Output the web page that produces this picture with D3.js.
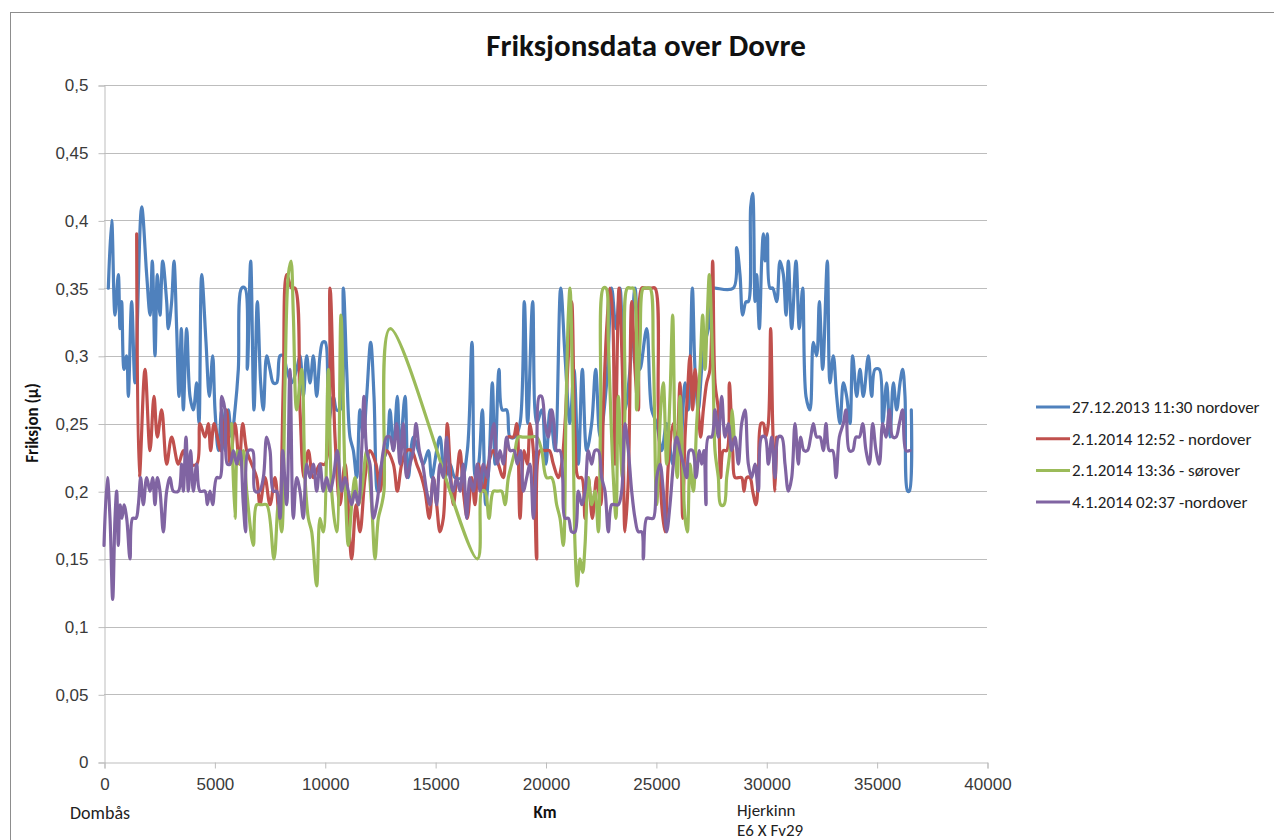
<!DOCTYPE html>
<html lang="no">
<head>
<meta charset="UTF-8">
<title>Friksjonsdata over Dovre</title>
<script src="https://d3js.org/d3.v7.min.js"></script>
<style>
  body { margin: 0; background: #fff; }
  svg { display: block; font-family: Carlito, Calibri, "Open Sans", sans-serif; }
  .tick-label { font-size: 17px; fill: #3a3a3a; }
  .legend-text { font-size: 17px; fill: #222; }
</style>
</head>
<body>
<svg class="chart"></svg>
<script>
// series names
const seriesNames = ["27.12.2013 11:30 nordover", "2.1.2014 12:52 - nordover", "2.1.2014 13:36 - sørover", "4.1.2014 02:37 -nordover"];
const seriesColors = ["#4f81bd", "#c0504d", "#9bbb59", "#8064a2"];

const xTicks = [0, 5000, 10000, 15000, 20000, 25000, 30000, 35000, 40000];
const yTicks = [0, 0.05, 0.1, 0.15, 0.2, 0.25, 0.3, 0.35, 0.4, 0.45, 0.5];

// 27.12.2013
const blueKm = [196,347,498,649,725,800,906,1027,1102,1253,1404,1706,1933,2084,2189,2310,2416,2537,2658,2839,2914,3065,3171,3292,3398,3503,3594,3745,3896,4047,4198,4304,4424,4621,4772,4923,5028,5179,5330,5481,5632,5783,5934,6085,6236,6387,6493,6644,6795,6946,7097,7218,7368,7519,7670,7821,7972,8123,8274,8501,8728,8879,9030,9181,9332,9483,9634,9785,9906,10026,10162,10389,10540,10691,10842,10993,11144,11295,11446,11597,11748,11899,12080,12231,12382,12578,12805,12956,
  13107,13288,13409,13636,13787,14013,14240,14466,14693,14844,15070,15221,15448,15674,15901,16203,16459,16671,16822,16973,17139,17290,17441,17592,17713,17894,18045,18241,18392,18619,18845,19041,19192,19419,19600,19827,20023,20204,20431,20687,20883,21110,21291,21488,21669,21865,22092,22273,22469,22771,22998,23194,23375,23602,23828,24055,24281,24583,24810,25036,25263,25489,25761,25942,
  26093,26320,26471,26652,26773,26924,27075,27226,27377,27528,27679,28509,28660,28811,28932,29083,29189,29294,29385,29491,29566,29687,29793,29868,29944,30049,30170,30291,30472,30623,30774,30895,31001,31152,31348,31499,31650,31801,31982,32133,32284,32405,32556,32767,32888,33039,33190,33341,33492,33643,33794,33915,34096,34247,34398,34625,34776,34927,35123,35274,35455,35606,35757,35908,36059,36180,36286,36406,36482,36572];
const blueVal = [0.35,0.40,0.33,0.36,0.32,0.34,0.29,0.30,0.27,0.34,0.28,0.41,0.36,0.33,0.37,0.30,0.36,0.33,0.37,0.34,0.32,0.34,0.37,0.32,0.27,0.32,0.26,0.32,0.27,0.26,0.28,0.25,0.36,0.31,0.27,0.30,0.26,0.23,0.26,0.23,0.26,0.24,0.26,0.29,0.35,0.35,0.29,0.37,0.26,0.34,0.28,0.26,0.30,0.29,0.28,0.28,0.30,0.30,0.29,0.28,0.29,0.30,0.27,0.30,0.28,0.30,0.27,0.30,0.31,0.31,0.25,0.27,0.26,0.26,0.35,0.29,0.24,0.23,0.21,0.26,0.24,0.27,0.31,0.27,0.20,0.22,0.23,0.26,
  0.23,0.27,0.23,0.27,0.21,0.24,0.23,0.22,0.23,0.21,0.23,0.24,0.21,0.22,0.21,0.21,0.23,0.31,0.21,0.22,0.26,0.19,0.22,0.28,0.22,0.29,0.26,0.26,0.24,0.24,0.25,0.34,0.25,0.34,0.25,0.26,0.22,0.26,0.23,0.35,0.30,0.25,0.29,0.22,0.29,0.23,0.25,0.29,0.24,0.28,0.35,0.32,0.35,0.26,0.29,0.35,0.29,0.32,0.26,0.25,0.23,0.25,0.22,0.24,
  0.23,0.28,0.26,0.35,0.29,0.26,0.29,0.31,0.32,0.35,0.35,0.35,0.38,0.36,0.33,0.34,0.34,0.41,0.42,0.34,0.36,0.32,0.37,0.39,0.37,0.39,0.35,0.35,0.34,0.37,0.36,0.33,0.37,0.32,0.37,0.32,0.35,0.27,0.26,0.31,0.30,0.34,0.29,0.37,0.28,0.30,0.27,0.25,0.28,0.27,0.25,0.30,0.27,0.29,0.27,0.30,0.27,0.29,0.29,0.25,0.28,0.24,0.28,0.26,0.28,0.29,0.27,0.20,0.20,0.26];

// 2.1.2014 nordover
const redKm = [1480,1601,1857,2084,2265,2416,2612,2839,3065,3367,3594,3820,4198,4349,4576,4726,4832,4983,5134,5285,5557,5708,5935,6131,6282,6463,6690,6916,7067,7294,7520,7747,7943,8124,8275,8502,8652,8879,9060,9256,9483,9785,10011,10238,10465,10691,10918,11219,11416,11597,11824,12050,12322,12503,12805,
  13107,13288,13485,13711,13938,14164,14391,14542,14738,14919,15070,15221,15372,15553,15674,15825,15976,16127,16278,16459,16656,16807,16958,17184,17411,17637,17864,18090,18317,18543,18694,18845,19026,19177,19298,19449,19600,19751,19978,20174,20355,20582,20733,20884,21035,21186,21337,21488,21639,21790,21941,22122,22318,22499,22620,22771,22922,23043,23149,23330,23481,23602,23753,23904,24055,24206,24357,24508,24659,24810,24961,25112,25263,25414,25565,25792,25942,26093,
  26214,26320,26425,26546,26667,26773,26924,27029,27150,27301,27452,27573,27679,27830,27935,28056,28207,28328,28479,28585,28736,28887,28992,29113,29264,29385,29536,29642,29762,29868,29974,30095,30200,30291,30397,30472];
const redVal = [0.39,0.21,0.29,0.23,0.27,0.24,0.26,0.22,0.24,0.22,0.23,0.22,0.22,0.25,0.24,0.25,0.23,0.25,0.24,0.23,0.26,0.22,0.25,0.22,0.25,0.23,0.22,0.21,0.19,0.21,0.19,0.21,0.18,0.28,0.36,0.35,0.35,0.26,0.21,0.23,0.21,0.22,0.22,0.35,0.24,0.19,0.22,0.15,0.19,0.17,0.21,0.23,0.22,0.20,0.23,
  0.22,0.20,0.22,0.23,0.23,0.22,0.21,0.20,0.18,0.21,0.19,0.17,0.18,0.25,0.22,0.19,0.21,0.23,0.20,0.18,0.21,0.19,0.22,0.20,0.22,0.23,0.22,0.21,0.24,0.24,0.25,0.18,0.23,0.22,0.25,0.23,0.15,0.23,0.23,0.23,0.22,0.21,0.22,0.25,0.30,0.34,0.24,0.21,0.21,0.18,0.21,0.18,0.21,0.19,0.26,0.32,0.35,0.33,0.22,0.35,0.29,0.17,0.21,0.34,0.29,0.26,0.35,0.35,0.35,0.35,0.35,0.26,0.19,0.17,0.22,0.25,0.23,0.28,
  0.18,0.24,0.27,0.30,0.26,0.29,0.26,0.24,0.26,0.28,0.29,0.37,0.28,0.26,0.21,0.23,0.23,0.28,0.23,0.21,0.21,0.21,0.20,0.21,0.21,0.20,0.19,0.21,0.25,0.25,0.24,0.25,0.32,0.25,0.20,0.24];

// 2.1.2014 sørover
const greenKm = [5783,5934,6040,6161,6312,6463,6765,6916,7142,7369,7701,7897,8048,8199,8350,8471,8577,8728,8955,9106,9257,9408,9634,9785,9936,10163,10313,10540,10736,10918,11068,11219,11370,11521,11672,11899,12126,12277,12428,12579,12684,12960,
  16912,17109,17260,17441,17637,17818,18015,18166,18317,18468,18619,18770,18996,19298,19600,19827,20053,20280,20506,20657,20808,20929,21035,21110,21231,21337,21442,21563,21684,21790,21941,22092,22243,22394,22499,22620,22741,22847,22952,23073,23194,23300,23481,23602,23707,23858,23979,24130,24281,24432,24583,24734,24885,25036,25217,25338,25489,25640,25761,25867,25972,26093,
  26214,26320,26425,26546,26697,26848,26999,27120,27226,27331,27422,27528,27603,27679,27830,27935,28086,28207,28358,28464,28539];
const greenVal = [0.25,0.18,0.23,0.22,0.23,0.20,0.16,0.19,0.19,0.19,0.15,0.19,0.17,0.28,0.36,0.37,0.33,0.26,0.29,0.21,0.18,0.17,0.13,0.18,0.17,0.29,0.20,0.17,0.33,0.21,0.16,0.19,0.21,0.19,0.20,0.23,0.19,0.15,0.18,0.19,0.20,0.32,
  0.15,0.20,0.20,0.18,0.20,0.20,0.20,0.19,0.21,0.22,0.23,0.24,0.24,0.24,0.24,0.23,0.21,0.21,0.19,0.18,0.16,0.26,0.33,0.35,0.27,0.16,0.13,0.15,0.14,0.16,0.21,0.19,0.20,0.17,0.26,0.35,0.35,0.31,0.26,0.21,0.18,0.27,0.21,0.26,0.35,0.35,0.35,0.26,0.31,0.35,0.35,0.35,0.30,0.19,0.26,0.28,0.22,0.27,0.33,0.24,0.21,0.27,
  0.22,0.18,0.17,0.22,0.20,0.25,0.29,0.33,0.29,0.33,0.36,0.32,0.28,0.23,0.21,0.19,0.19,0.21,0.23,0.26,0.24];

// 4.1.2014
const purpleKm = [0,151,272,393,498,574,649,725,816,906,1027,1178,1299,1450,1556,1661,1782,1933,2084,2205,2310,2416,2537,2688,2839,2990,3141,3367,3518,3594,3715,3820,3926,4047,4198,4349,4576,4681,4802,4923,5104,5255,5330,5481,5587,5708,5859,6010,6161,6312,6418,6538,6735,6840,7037,7218,7369,7520,7671,7822,7973,8094,8275,8426,8577,8728,8879,9030,9181,9332,9483,9634,9785,9936,10087,10238,10389,10570,10766,10917,11068,11219,11370,11521,11672,11778,11899,12050,12201,12352,12503,12654,12805,
  12956,13107,13258,13409,13560,13711,13862,14013,14134,14285,14436,14617,14768,14919,15070,15221,15372,15523,15674,15825,15976,16127,16278,16429,16580,16731,16912,17033,17184,17365,17486,17667,17818,17939,18090,18241,18392,18573,18724,18875,18996,19147,19298,19449,19600,19721,19827,19978,20129,20280,20385,20506,20657,20778,20884,21035,21186,21337,21488,21639,21790,21941,22092,22243,22394,22545,22696,22847,22998,23149,23300,23451,23602,23753,23904,24055,24206,24357,24432,24583,24734,24885,25036,25187,25338,25489,25640,25791,25942,26093,
  26244,26395,26516,26667,26818,26969,27075,27180,27271,27377,27528,27679,27830,27981,28132,28283,28434,28585,28736,28887,29038,29189,29340,29491,29642,29793,29944,30095,30246,30397,30548,30699,30850,31001,31152,31303,31454,31559,31710,31861,32012,32133,32284,32435,32586,32707,32858,33009,33160,33311,33492,33613,33764,33915,34066,34217,34368,34519,34670,34821,34972,35123,35274,35425,35576,35727,35878,36029,36180,36331,36512];
const purpleVal = [0.16,0.21,0.18,0.12,0.18,0.20,0.16,0.19,0.18,0.19,0.18,0.15,0.18,0.18,0.19,0.21,0.19,0.21,0.20,0.21,0.19,0.21,0.20,0.17,0.20,0.21,0.20,0.20,0.22,0.20,0.24,0.20,0.23,0.20,0.22,0.20,0.20,0.19,0.20,0.19,0.21,0.21,0.27,0.26,0.22,0.22,0.23,0.22,0.23,0.19,0.17,0.23,0.23,0.20,0.20,0.21,0.24,0.23,0.20,0.20,0.18,0.23,0.19,0.29,0.18,0.21,0.20,0.18,0.22,0.21,0.22,0.20,0.22,0.20,0.21,0.20,0.21,0.23,0.20,0.21,0.20,0.19,0.20,0.19,0.23,0.27,0.23,0.22,0.18,0.19,0.21,0.23,0.24,
  0.24,0.23,0.25,0.22,0.25,0.21,0.22,0.23,0.25,0.23,0.22,0.20,0.19,0.21,0.19,0.22,0.21,0.24,0.21,0.20,0.21,0.20,0.22,0.18,0.21,0.20,0.22,0.20,0.22,0.21,0.23,0.25,0.22,0.23,0.22,0.24,0.23,0.23,0.22,0.23,0.20,0.21,0.22,0.18,0.23,0.27,0.27,0.25,0.24,0.26,0.25,0.23,0.23,0.21,0.18,0.18,0.17,0.17,0.20,0.19,0.20,0.23,0.22,0.23,0.23,0.21,0.20,0.17,0.19,0.19,0.19,0.20,0.25,0.23,0.20,0.18,0.17,0.17,0.15,0.18,0.18,0.18,0.21,0.22,0.20,0.17,0.19,0.22,0.24,0.23,
  0.22,0.21,0.23,0.23,0.21,0.23,0.22,0.23,0.19,0.24,0.24,0.26,0.24,0.27,0.24,0.25,0.23,0.24,0.22,0.25,0.26,0.22,0.21,0.22,0.20,0.24,0.24,0.22,0.24,0.21,0.24,0.24,0.22,0.20,0.21,0.25,0.22,0.24,0.23,0.23,0.24,0.25,0.24,0.24,0.23,0.25,0.23,0.23,0.21,0.24,0.25,0.26,0.23,0.23,0.24,0.24,0.25,0.23,0.22,0.25,0.23,0.22,0.25,0.24,0.26,0.24,0.24,0.25,0.26,0.23,0.23];

const series = [
  { km: blueKm, val: blueVal },
  { km: redKm, val: redVal },
  { km: greenKm, val: greenVal },
  { km: purpleKm, val: purpleVal }
];

const W = 1274, H = 840;
const svg = d3.select(".chart").attr("width", W).attr("height", H);

svg.append("rect").attr("width", W).attr("height", H).attr("fill", "#fff");
// outer frame of the chart area
svg.append("rect")
  .attr("x", 10.5).attr("y", 12.5)
  .attr("width", W + 20).attr("height", H + 20)
  .attr("fill", "none").attr("stroke", "#8d8d8d").attr("stroke-width", 1);

const x = d3.scaleLinear().domain([0, 40000]).range([104, 987]);
const y = d3.scaleLinear().domain([0, 0.5]).range([762, 85]);

const grid = "#bdbdbd";

// horizontal gridlines
svg.append("g").selectAll("line")
  .data(yTicks.filter(d => d > 0))
  .join("line")
  .attr("x1", x(0)).attr("x2", x(40000))
  .attr("y1", d => Math.round(y(d)) + 0.5).attr("y2", d => Math.round(y(d)) + 0.5)
  .attr("stroke", grid);

// y axis
const yAxis = svg.append("g")
  .attr("transform", `translate(${x(0) + 0.5},0.5)`)
  .call(d3.axisLeft(y).tickValues(yTicks).tickSize(6).tickPadding(10)
    .tickFormat(d => String(+d.toFixed(2)).replace(".", ",")));
yAxis.select(".domain").attr("stroke", grid);
yAxis.selectAll(".tick line").attr("stroke", grid);
yAxis.selectAll(".tick text").attr("class", "tick-label").attr("font-family", null).attr("font-size", null);

// x axis
const xAxis = svg.append("g")
  .attr("transform", `translate(0.5,${y(0) + 0.5})`)
  .call(d3.axisBottom(x).tickValues(xTicks).tickSize(6).tickPadding(9).tickFormat(d3.format("d")));
xAxis.select(".domain").attr("stroke", grid);
xAxis.selectAll(".tick line").attr("stroke", grid);
xAxis.selectAll(".tick text").attr("class", "tick-label").attr("font-family", null).attr("font-size", null);

// lines
const line = d3.line()
  .x(d => x(d[0]))
  .y(d => y(d[1]))
  .curve(d3.curveCatmullRom.alpha(0.5));

series.forEach((s, i) => {
  const pts = s.km.map((k, j) => [k, s.val[j]]);
  svg.append("path")
    .datum(pts)
    .attr("d", line)
    .attr("fill", "none")
    .attr("stroke", seriesColors[i])
    .attr("stroke-width", 3.2)
    .attr("stroke-linejoin", "round")
    .attr("stroke-linecap", "round");
});

// title
svg.append("text")
  .attr("x", 646).attr("y", 56)
  .attr("text-anchor", "middle")
  .attr("font-size", 31).attr("font-weight", "bold").attr("fill", "#111")
  .text("Friksjonsdata over Dovre");

// y title
svg.append("text")
  .attr("transform", "translate(38,423) rotate(-90)")
  .attr("text-anchor", "middle")
  .attr("font-size", 17).attr("font-weight", "bold").attr("fill", "#111")
  .text("Friksjon (µ)");

// x title and place names
svg.append("text").attr("x", 545).attr("y", 818).attr("text-anchor", "middle")
  .attr("font-size", 17).attr("font-weight", "bold").attr("fill", "#111").text("Km");
svg.append("text").attr("x", 70).attr("y", 819)
  .attr("font-size", 18).attr("fill", "#222").text("Dombås");
svg.append("text").attr("x", 737).attr("y", 816)
  .attr("font-size", 17).attr("fill", "#222").text("Hjerkinn");
svg.append("text").attr("x", 737).attr("y", 836)
  .attr("font-size", 17).attr("fill", "#222").text("E6 X Fv29");

// legend
const legend = svg.append("g").selectAll("g")
  .data(seriesNames)
  .join("g")
  .attr("transform", (d, i) => `translate(1036,${407 + i * 31.7})`);
legend.append("line")
  .attr("x1", 0).attr("x2", 34)
  .attr("stroke", (d, i) => seriesColors[i])
  .attr("stroke-width", 3);
legend.append("text")
  .attr("class", "legend-text")
  .attr("x", 36).attr("y", 6)
  .text(d => d);
</script>
</body>
</html>
